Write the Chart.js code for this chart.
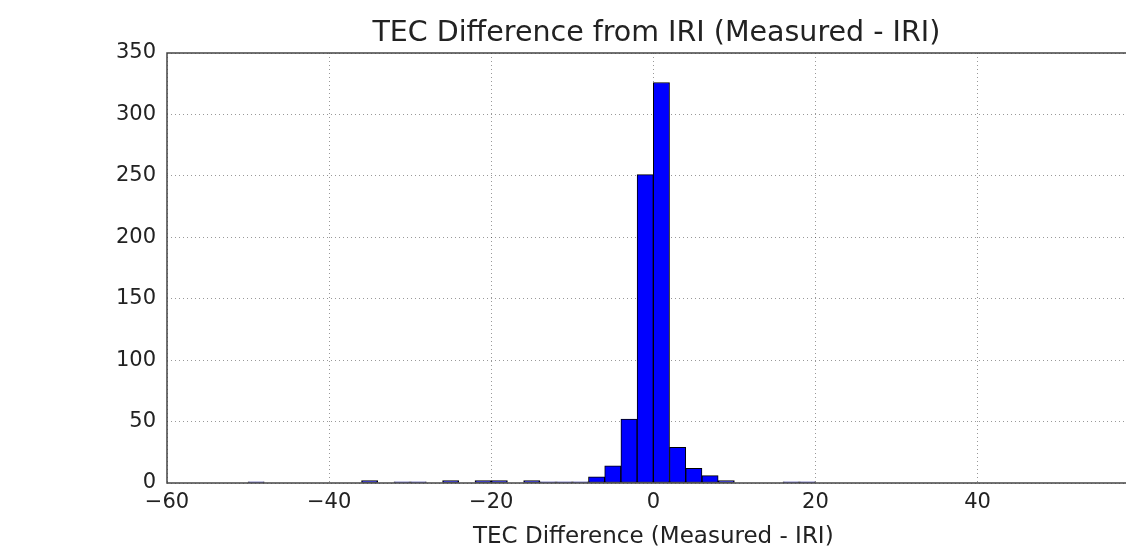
<!DOCTYPE html>
<html>
<head>
<meta charset="utf-8">
<script src="https://cdn.jsdelivr.net/npm/chart.js@4.4.1/dist/chart.umd.min.js"></script>
<style>
  html, body { margin: 0; padding: 0; background: #fff; overflow: hidden; }
  #wrap { width: 1160px; height: 546px; }
</style>
</head>
<body>
<div id="wrap"><canvas id="tecChart" width="1160" height="546"></canvas></div>
<script>
// histogram bins, width 2, left edges from -50 to 18
const binStarts = [-50, -48, -46, -44, -42, -40, -38, -36, -34, -32, -30, -28, -26, -24, -22, -20, -18,
                   -16, -14, -12, -10, -8, -6, -4, -2, 0, 2, 4, 6, 8, 10, 12, 14, 16, 18];
const counts = [1, 0, 0, 0, 0, 0, 0, 2, 0, 1, 1, 0, 2, 0, 2, 2, 0,
                2, 1, 1, 1, 5, 14, 52, 251, 326, 29, 12, 6, 2, 0, 0, 0, 1, 1];
const binWidth = 2;
const xTicks = [-60, -40, -20, 0, 20, 40, 60];
const yTicks = [0, 50, 100, 150, 200, 250, 300, 350];
const chartTitle = 'TEC Difference from IRI (Measured - IRI)';
const xTitle = 'TEC Difference (Measured - IRI)';

const points = binStarts.map((s, i) => ({ x: s + binWidth / 2, y: counts[i] }));

const FONT = 'DejaVu Sans';

// box around the plot area + title centred over the axes (matplotlib style)
const frame = {
    id: 'frame',
    afterDraw(chart) {
        const { ctx, chartArea: a } = chart;
        ctx.save();
        ctx.strokeStyle = '#444';
        ctx.lineWidth = 1.5;
        ctx.strokeRect(a.left, a.top, a.right - a.left, a.bottom - a.top);
        ctx.fillStyle = '#222';
        ctx.font = '28.5px "' + FONT + '"';
        ctx.textAlign = 'center';
        ctx.textBaseline = 'middle';
        ctx.fillText(chartTitle, (a.left + a.right) / 2 + 3, 34);
        ctx.restore();
    }
};

const ctx = document.getElementById('tecChart').getContext('2d');
new Chart(ctx, {
    type: 'bar',
    data: {
        datasets: [{
            data: points,
            backgroundColor: '#0000ff',
            borderColor: '#000',
            borderWidth: 1,
            barPercentage: 1,
            categoryPercentage: 1,
            borderSkipped: false
        }]
    },
    options: {
        responsive: false,
        animation: false,
        layout: { padding: { left: 0, right: 15, top: 53, bottom: 0 } },
        scales: {
            x: {
                type: 'linear',
                offset: false,
                min: xTicks[0],
                max: xTicks[xTicks.length - 1],
                afterBuildTicks: s => { s.ticks = xTicks.map(v => ({ value: v })); },
                afterFit: s => { s.height = 63; },
                grid: { offset: false, color: 'rgba(0,0,0,0.4)', lineWidth: 1, drawTicks: false },
                border: { display: false, dash: [1, 3] },
                ticks: {
                    padding: 7,
                    color: '#222',
                    font: { family: FONT, size: 21 },
                    callback: v => v < 0 ? '\u2212' + Math.abs(v) : String(v)
                },
                title: {
                    display: true,
                    text: xTitle,
                    color: '#222',
                    font: { family: FONT, size: 23, lineHeight: 0.8 },
                    padding: { top: 4, bottom: 0 }
                }
            },
            y: {
                min: 0,
                max: 350,
                afterBuildTicks: s => { s.ticks = yTicks.map(v => ({ value: v })); },
                afterFit: s => { s.width = 167; },
                grid: { color: 'rgba(0,0,0,0.4)', lineWidth: 1, drawTicks: false },
                border: { display: false, dash: [1, 3] },
                ticks: {
                    padding: 11,
                    color: '#222',
                    font: { family: FONT, size: 21 }
                }
            }
        },
        plugins: {
            legend: { display: false },
            tooltip: { enabled: false },
            title: { display: false }
        }
    },
    plugins: [frame]
});
</script>
</body>
</html>
